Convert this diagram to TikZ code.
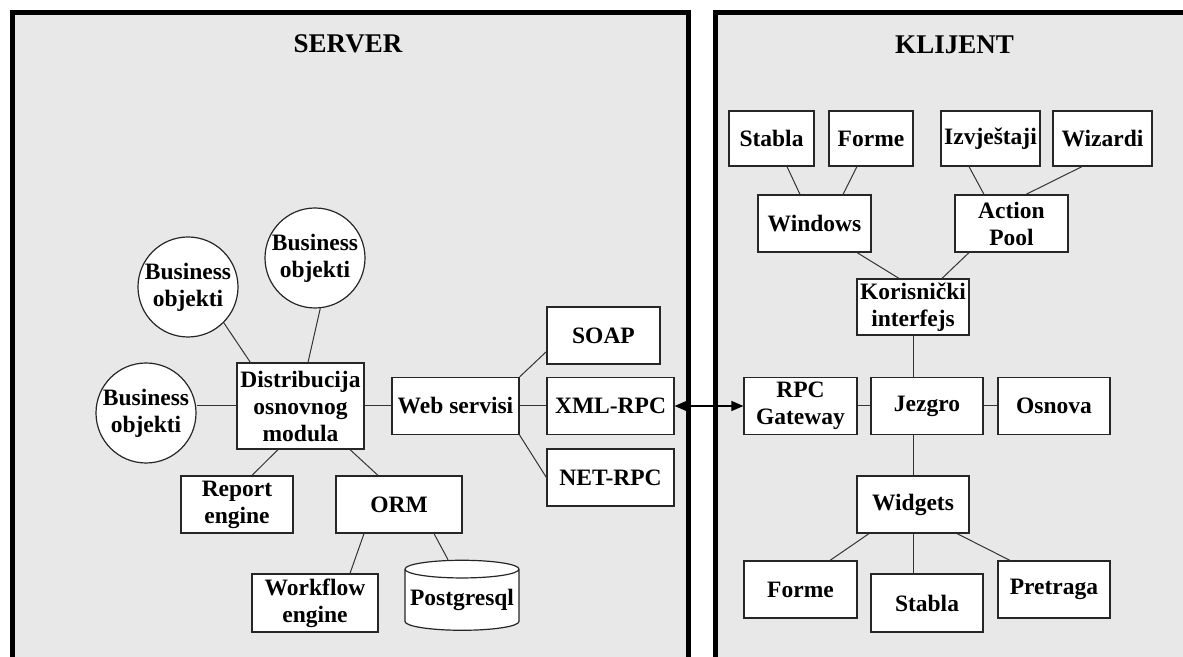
\documentclass[tikz,border=0pt]{standalone}
\usepackage{fontspec}
\setmainfont{Liberation Serif}
\usetikzlibrary{arrows.meta,shapes.geometric}
\definecolor{panelgray}{HTML}{E8E8E8}
\definecolor{linegray}{HTML}{333333}
\begin{document}
\begin{tikzpicture}[x=1pt,y=1pt]
	\tikzstyle{every node}=[font=\bfseries\fontsize{23.5}{27}\selectfont]
	\tikzstyle{box}=[draw=black!85, line width=1.2pt, fill=white, align=center, inner sep=0pt, minimum height=57pt]
	\tikzstyle{bobj}=[circle, draw=black!85, line width=1.2pt, fill=white, align=center, inner sep=0pt, minimum size=100pt]
	\tikzstyle{db}=[cylinder, shape border rotate=90, aspect=0.17, draw=black!85, line width=1.2pt, fill=white, inner sep=0pt, minimum width=114pt, minimum height=70pt]
	\tikzstyle{link}=[draw=linegray, line width=1pt]
	\tikzstyle{panel}=[draw=black, line width=5pt, fill=panelgray]
	\tikzstyle{title}=[font=\bfseries\fontsize{27}{30}\selectfont, anchor=base]
	
	%%panels
	\clip (0,0) rectangle (1183,656);
	\draw [panel] (12.5,-20) rectangle (688,643.5);
	\draw [panel] (715,-20) rectangle (1220,643.5);
	\node [title] (server) at (348,603) {SERVER};
	\node [title] (klijent) at (954.5,602) {KLIJENT};
	
	%%server
	\node [bobj] (bo1) at (188,369) {Business\\objekti};
	\node [bobj] (bo2) at (315,398) {Business\\objekti};
	\node [bobj] (bo3) at (146,243) {Business\\objekti};
	\node [box, minimum width=127pt, minimum height=86pt] (dist) at (300.5,250) {Distribucija\\osnovnog\\modula};
	\node [box, minimum width=127pt] (web) at (455.5,250) {Web servisi};
	\node [box, minimum width=113pt] (soap) at (603.5,320.5) {SOAP};
	\node [box, minimum width=127pt] (xml) at (610.5,250) {XML-RPC};
	\node [box, minimum width=127pt] (net) at (610.5,178.5) {NET-RPC};
	\node [box, minimum width=112pt] (report) at (237,151.5) {Report\\engine};
	\node [box, minimum width=126pt] (orm) at (399,151.5) {ORM};
	\node [box, minimum width=126pt, minimum height=58pt] (workflow) at (315,53) {Workflow\\engine};
	\node [db] (pg) at (462,56) {Postgresql};
	
	\draw [link] (bo1.-45) -- ([xshift=14pt]dist.north west);
	\draw [link] (bo2.-84) -- ([xshift=7.5pt]dist.north);
	\draw [link] (dist.west) -- (dist.west -| bo3.east);
	\draw [link] (dist) -- (web);
	\draw [link] (web.north east) -- ([yshift=13pt]soap.south west);
	\draw [link] (web) -- (xml);
	\draw [link] (web.south east) -- (net.west);
	\draw [link] ([xshift=-22.5pt]dist.south) -- ([xshift=15pt]report.north);
	\draw [link] ([xshift=49.5pt]dist.south) -- ([xshift=-21pt]orm.north);
	\draw [link] ([xshift=-35pt]orm.south) -- ([xshift=35pt]workflow.north);
	\draw [link] ([xshift=35pt]orm.south) -- ([xshift=-14pt]pg.north);
	
	%%klijent
	\node [box, minimum width=85pt, minimum height=55pt] (stabla1) at (771.5,517.5) {Stabla};
	\node [box, minimum width=84pt, minimum height=55pt] (forme1) at (871,517.5) {Forme};
	\node [box, minimum width=99pt, minimum height=55pt] (izv) at (990.5,517.5) {Izvještaji};
	\node [box, minimum width=99pt, minimum height=55pt] (wiz) at (1102.5,517.5) {Wizardi};
	\node [box, minimum width=113pt] (windows) at (814.5,432.5) {Windows};
	\node [box, minimum width=113pt] (action) at (1011.5,432.5) {Action\\Pool};
	\node [box, minimum width=112pt, minimum height=56pt] (kor) at (913,349) {Korisnički\\interfejs};
	\node [box, minimum width=113pt] (rpc) at (800.5,250) {RPC\\Gateway};
	\node [box, minimum width=112pt] (jez) at (927,250) {Jezgro};
	\node [box, minimum width=112pt] (osn) at (1054,250) {Osnova};
	\node [box, minimum width=112pt] (widgets) at (913,151.5) {Widgets};
	\node [box, minimum width=113pt] (forme2) at (800.5,66.5) {Forme};
	\node [box, minimum width=112pt, minimum height=58pt] (stabla2) at (927,53) {Stabla};
	\node [box, minimum width=112pt] (pretraga) at (1054,66.5) {Pretraga};
	
	\draw [link] ([xshift=15.5pt]stabla1.south) -- ([xshift=-14.5pt]windows.north);
	\draw [link] ([xshift=-14pt]forme1.south) -- ([xshift=28.5pt]windows.north);
	\draw [link] ([xshift=-21.5pt]izv.south) -- ([xshift=-27.5pt]action.north);
	\draw [link] ([xshift=-20.5pt]wiz.south) -- ([xshift=14.5pt]action.north);
	\draw [link] ([xshift=42.5pt]windows.south) -- ([xshift=-14pt]kor.north);
	\draw [link] ([xshift=-42.5pt]action.south) -- ([xshift=29pt]kor.north);
	\draw [link] (kor.south) -- (kor.south |- jez.north);
	\draw [link] (rpc) -- (jez);
	\draw [link] (jez) -- (osn);
	\draw [link] (widgets.north |- jez.south) -- (widgets.north);
	\draw [link] ([xshift=-44pt]widgets.south) -- ([xshift=29.5pt]forme2.north);
	\draw [link] (widgets.south) -- (widgets.south |- stabla2.north);
	\draw [link] ([xshift=44pt]widgets.south) -- ([xshift=-44pt]pretraga.north);
	
	%%rpc link
	\draw [line width=1.2pt, {Triangle[length=12pt,width=10pt]}-{Triangle[length=12pt,width=10pt]}] (xml.east) -- (rpc.west);

\end{tikzpicture}
\end{document}
